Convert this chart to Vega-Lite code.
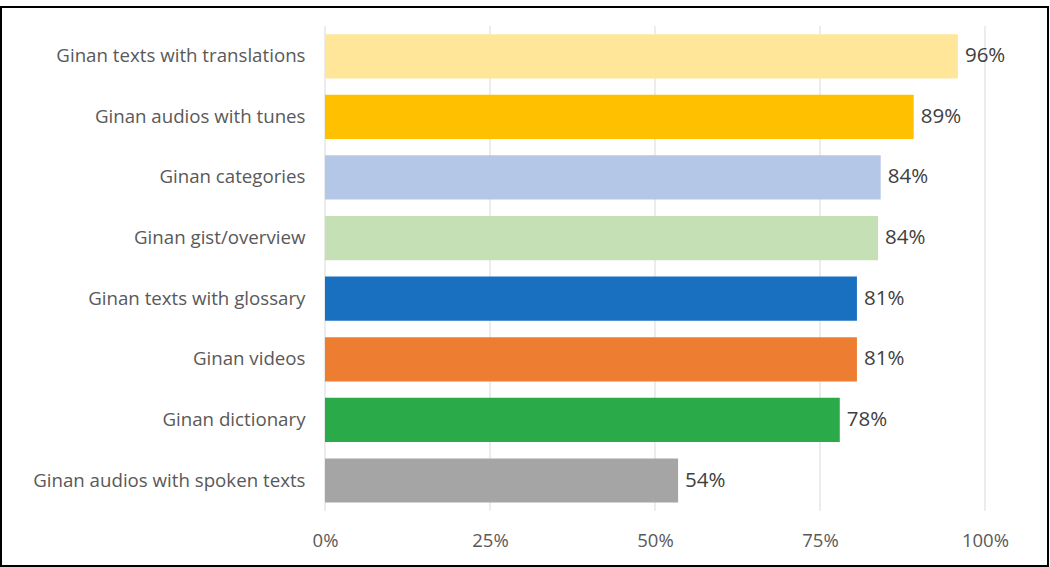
{
  "$schema": "https://vega.github.io/schema/vega-lite/v6.json",
  "width": 1047,
  "height": 559,
  "autosize": "none",
  "padding": {"left": 1, "top": 7, "right": 2, "bottom": 1},
  "background": "white",
  "config": {"view": {"stroke": "#000000", "strokeWidth": 2}, "font": "Open Sans"},
  "datasets": {
    "bars": [
      {"category": "Ginan texts with translations", "value": 0.959},
      {"category": "Ginan audios with tunes", "value": 0.892},
      {"category": "Ginan categories", "value": 0.842},
      {"category": "Ginan gist/overview", "value": 0.838},
      {"category": "Ginan texts with glossary", "value": 0.806},
      {"category": "Ginan videos", "value": 0.806},
      {"category": "Ginan dictionary", "value": 0.78},
      {"category": "Ginan audios with spoken texts", "value": 0.535}
    ],
    "grid": [{"v": 0}, {"v": 0.25}, {"v": 0.5}, {"v": 0.75}, {"v": 1}]
  },
  "encoding": {
    "y": {
      "field": "category", "type": "nominal", "sort": null,
      "scale": {
        "domain": ["Ginan texts with translations", "Ginan audios with tunes", "Ginan categories", "Ginan gist/overview", "Ginan texts with glossary", "Ginan videos", "Ginan dictionary", "Ginan audios with spoken texts"],
        "paddingInner": 0.27, "paddingOuter": 0.747, "align": 0.3
      },
      "axis": {"orient": "left", "offset": -306, "labelPadding": 2, "domain": false, "ticks": false, "grid": false, "title": null, "labelFontSize": 18.7, "labelColor": "#595959", "labelLimit": 400}
    },
    "x": {
      "field": "value", "type": "quantitative",
      "scale": {"domain": [-0.4909, 1.0955], "nice": false, "zero": false},
      "axis": {"values": [0, 0.25, 0.5, 0.75, 1], "format": ".0%", "grid": false, "domain": false, "ticks": false, "title": null, "offset": -26, "labelPadding": 0, "labelBaseline": "middle", "labelFontSize": 18.5, "labelColor": "#595959"}
    }
  },
  "layer": [
    {
      "data": {"name": "grid"},
      "mark": {"type": "rule", "color": "#d9d9d9", "strokeWidth": 1},
      "encoding": {
        "x": {"field": "v", "type": "quantitative"},
        "y": {"datum": "Ginan texts with translations", "type": "nominal", "bandPosition": -0.185},
        "y2": {"datum": "Ginan audios with spoken texts", "bandPosition": 1.185}
      }
    },
    {
      "data": {"name": "bars"},
      "mark": {"type": "bar"},
      "encoding": {
        "color": {
          "field": "category", "type": "nominal", "legend": null,
          "scale": {
            "domain": ["Ginan texts with translations", "Ginan audios with tunes", "Ginan categories", "Ginan gist/overview", "Ginan texts with glossary", "Ginan videos", "Ginan dictionary", "Ginan audios with spoken texts"],
            "range": ["#FFE699", "#FFC000", "#B4C7E7", "#C5E0B4", "#1A70C0", "#ED7D31", "#2BAA4A", "#A5A5A5"]
          }
        }
      }
    },
    {
      "data": {"name": "bars"},
      "mark": {"type": "text", "align": "left", "baseline": "middle", "dx": 7, "fontSize": 20.5, "color": "#404040"},
      "encoding": {
        "text": {"field": "value", "type": "quantitative", "format": ".0%"}
      }
    }
  ]
}
